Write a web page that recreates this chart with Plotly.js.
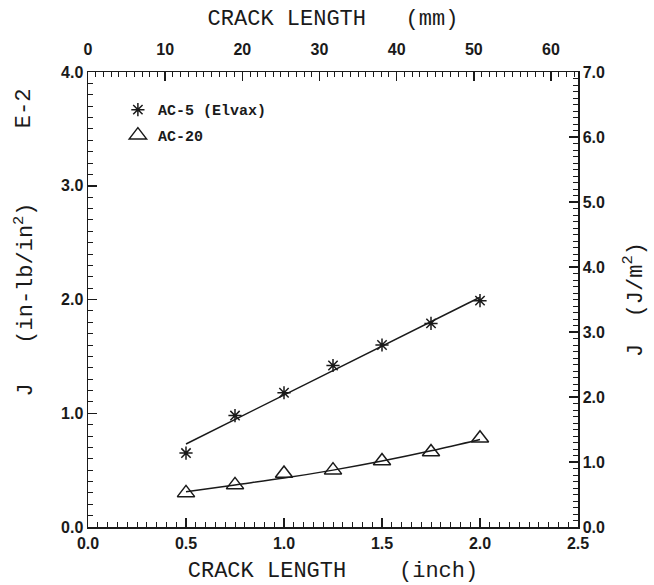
<!DOCTYPE html>
<html><head><meta charset="utf-8">
<script src="https://cdn.plot.ly/plotly-3.0.1.min.js"></script>
<style>body{margin:0;background:#fff}#plot{width:654px;height:585px}</style>
</head><body><div id="plot"></div>
<script>
// Crack length (inch)
var crackInch = [0.5, 0.75, 1.0, 1.25, 1.5, 1.75, 2.0];
// J values (x 1E-2 in-lb/in^2)
var jAC5 = [0.65, 0.98, 1.18, 1.42, 1.60, 1.79, 1.99];
var jAC20 = [0.30, 0.37, 0.47, 0.50, 0.58, 0.66, 0.78];
// Fitted lines
var fitAC5X = [0.5, 2.0];
var fitAC5Y = [0.73, 2.02];
var fitAC20X = [0.5, 0.75, 1.0, 1.25, 1.5, 1.75, 2.0];
var fitAC20Y = [0.31, 0.37, 0.43, 0.50, 0.58, 0.67, 0.77];
var names = ["AC-5 (Elvax)", "AC-20"];
// Secondary axis ranges (mm and J/m^2)
var mmRange = [0, 63.5];
var siRange = [0, 7.0];

var ink = "#1a1a1a";
var tickFont = {family: "Liberation Sans, Arial, sans-serif", size: 16, color: ink, weight: "bold"};
var titleFont = {family: "Liberation Mono, Courier New, monospace", size: 22, color: ink};

var traces = [
  {x: fitAC5X, y: fitAC5Y, mode: "lines", line: {color: ink, width: 1.5}, showlegend: false, hoverinfo: "skip"},
  {x: fitAC20X, y: fitAC20Y, mode: "lines", line: {color: ink, width: 1.5, shape: "spline"}, showlegend: false, hoverinfo: "skip"},
  {x: crackInch, y: jAC5, mode: "markers", name: names[0], legendgroup: "a",
   marker: {symbol: "asterisk-open", size: 11, color: ink, line: {color: ink, width: 1.5}}},
  {x: crackInch, y: jAC20, mode: "markers", name: names[1], legendgroup: "b",
   marker: {symbol: "triangle-up-open", size: 15, color: ink, line: {color: ink, width: 1.5}}},
  // invisible traces to drive the secondary axes
  {x: mmRange, y: [0, 0], xaxis: "x2", yaxis: "y", mode: "markers", marker: {opacity: 0}, showlegend: false, hoverinfo: "skip"},
  {x: [0, 2.5], y: siRange, xaxis: "x", yaxis: "y2", mode: "markers", marker: {opacity: 0}, showlegend: false, hoverinfo: "skip"}
];

var minorCfg = function (d) { return {dtick: d, ticklen: 5, tickwidth: 1, tickcolor: ink, ticks: "inside"}; };
var common = {showgrid: false, zeroline: false, showline: true, linecolor: ink, linewidth: 1.5,
  ticks: "inside", ticklen: 9, tickwidth: 1.5, tickcolor: ink, tickfont: tickFont, mirror: false, automargin: false};

var layout = {
  width: 654, height: 585,
  margin: {l: 88, r: 76, t: 72, b: 58},
  paper_bgcolor: "#fff", plot_bgcolor: "#fff",
  xaxis: Object.assign({}, common, {range: [0, 2.5], dtick: 0.5, tickformat: ".1f", ticklabelstandoff: 1,
    minor: minorCfg(0.05),
    title: {text: "CRACK LENGTH&nbsp;&nbsp;&nbsp;&nbsp;(inch)", font: titleFont, standoff: 11}}),
  xaxis2: Object.assign({}, common, {range: mmRange, dtick: 10, overlaying: "x", side: "top", anchor: "y",
    ticklabelstandoff: 9, minor: minorCfg(1),
    title: {text: "CRACK LENGTH&nbsp;&nbsp;&nbsp;(mm)", font: titleFont, standoff: 9}}),
  yaxis: Object.assign({}, common, {range: [0, 4.0], dtick: 1.0, tickformat: ".1f",
    minor: minorCfg(0.1),
    title: {text: "J&nbsp;&nbsp;&nbsp;(in-lb/in<sup>2</sup>)", font: titleFont, standoff: 22}}),
  yaxis2: Object.assign({}, common, {range: siRange, dtick: 1.0, tickformat: ".1f", overlaying: "y", side: "right", anchor: "x",
    minor: minorCfg(0.1),
    title: {text: "J&nbsp;&nbsp;(J/m<sup>2</sup>)", font: titleFont, standoff: 22}}),
  legend: {x: 0.061, y: 0.953, xanchor: "left", yanchor: "top", bgcolor: "rgba(0,0,0,0)",
    font: {family: "Liberation Mono, DejaVu Sans Mono, monospace", size: 15, color: ink, weight: "bold"},
    tracegroupgap: 3},
  annotations: [{text: "E-2", xref: "paper", yref: "paper", x: -0.129, y: 0.92, xanchor: "center", yanchor: "middle",
    showarrow: false, textangle: -90, font: titleFont}]
};

Plotly.newPlot("plot", traces, layout, {displayModeBar: false, staticPlot: true});
</script>
</body></html>
